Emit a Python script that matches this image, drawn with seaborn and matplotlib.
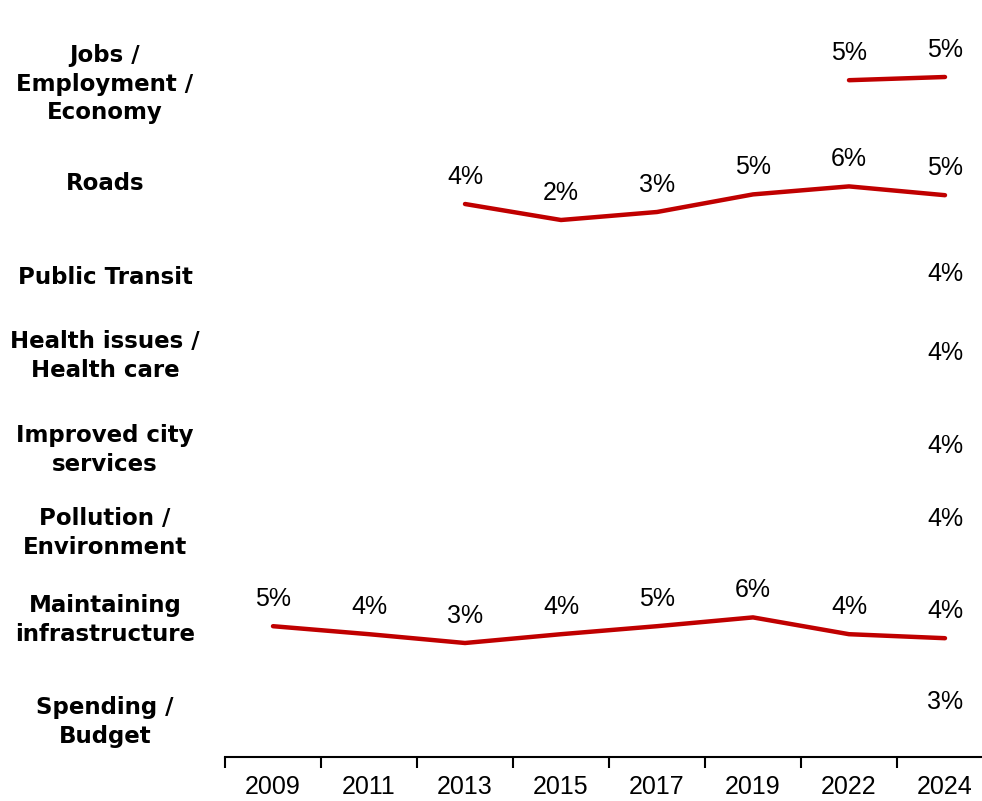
import numpy as np
import pandas as pd
import seaborn as sns
import matplotlib.pyplot as plt

# Data (percent of mentions by year)
years = ['2009', '2011', '2013', '2015', '2017', '2019', '2022', '2024']
categories = ['Jobs /\nEmployment /\nEconomy', 'Roads', 'Public Transit',
              'Health issues /\nHealth care', 'Improved city\nservices',
              'Pollution /\nEnvironment', 'Maintaining\ninfrastructure',
              'Spending /\nBudget']
jobs = [np.nan, np.nan, np.nan, np.nan, np.nan, np.nan, 4.6, 5.0]
roads = [np.nan, np.nan, 4.0, 2.0, 3.0, 5.2, 6.2, 5.1]
public_transit = [np.nan] * 7 + [4.0]
health = [np.nan] * 7 + [4.0]
city_services = [np.nan] * 7 + [4.0]
pollution = [np.nan] * 7 + [4.0]
infrastructure = [5.1, 4.1, 3.0, 4.1, 5.1, 6.2, 4.1, 3.6]
spending = [np.nan] * 7 + [3.0]
series = [jobs, roads, public_transit, health, city_services,
          pollution, infrastructure, spending]

# layout of the rows (pixel y of 0% line, pixel y of the row label)
row_base = [117, 236, 333, 412, 505, 578, 667, 753]
label_y = [84, 184, 277, 356, 450, 533, 620, 722]
px_per_pct = 8

rows = []
for cat, vals, base in zip(categories, series, row_base):
    for i, v in enumerate(vals):
        if not np.isnan(v):
            rows.append({'category': cat, 'pos': i, 'value': v,
                         'ypos': base - v * px_per_pct})
df = pd.DataFrame(rows)

sns.set_style('white')
plt.rcParams['font.family'] = ['Liberation Sans', 'DejaVu Sans']

W, H = 982, 801
fig = plt.figure(figsize=(W / 100, H / 100), dpi=100)
axis_y = 757
left = 225
ax = fig.add_axes([left / W, (H - axis_y) / H, (W - left) / W, axis_y / H])

sns.lineplot(data=df, x='pos', y='ypos', units='category', estimator=None,
             color='#C00000', linewidth=3.2, legend=False, sort=False, ax=ax)

for _, r in df.iterrows():
    ax.annotate(f"{r['value']:.0f}%", (r['pos'], r['ypos']), xytext=(0, 19.5),
                textcoords='offset points', ha='center', va='center',
                fontsize=18, color='black')

ax.set_ylim(axis_y, 0)
ax.set_xlim(-0.5, -0.5 + (W - left) / 96)
ax.set_xticks(range(len(years)))
ax.set_xticklabels(years, fontsize=18, color='black')
ax.set_xticks([i - 0.5 for i in range(len(years))], minor=True)
ax.tick_params(axis='x', which='major', length=0, pad=13)
ax.tick_params(axis='x', which='minor', length=8, width=1.5, direction='out',
               color='black', bottom=True)
ax.set_yticks([])
ax.set_xlabel('')
ax.set_ylabel('')
sns.despine(ax=ax, left=True, top=True, right=True)
ax.spines['bottom'].set_linewidth(1.5)
ax.spines['bottom'].set_color('black')

for cat, y in zip(categories, label_y):
    fig.text(105 / W, 1 - y / H, cat, ha='center', va='center',
             fontsize=16.5, fontweight='bold', family=['DejaVu Sans'],
             color='black', linespacing=1.3)

fig.savefig('out.png', dpi=100)
